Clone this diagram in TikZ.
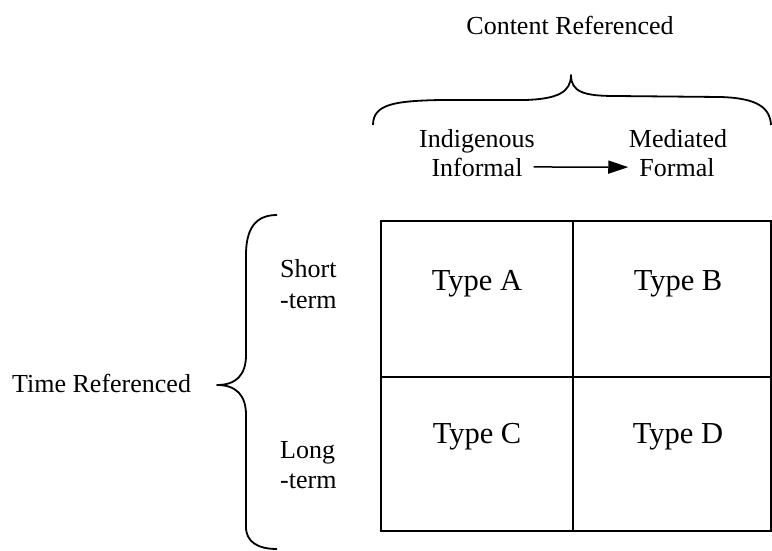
\documentclass[tikz,border=0pt]{standalone}
\usepackage{fontspec}
\setmainfont{Liberation Serif}
\usetikzlibrary{arrows.meta}
\tikzset{
  lbl/.style={inner sep=0pt, font=\fontsize{26}{30}\selectfont},
  typelbl/.style={inner sep=0pt, anchor=base, font=\fontsize{30.5}{35}\selectfont},
  gridline/.style={line width=2.5pt},
  bracel/.style={line width=1.8pt, line join=round},
  arr/.style={line width=1.5pt, -{Triangle[length=20pt,width=13pt]}}
}
\begin{document}
\begin{tikzpicture}[x=1pt,y=-1pt]
\useasboundingbox (0,0) rectangle (772,551);
% top labels
\node[lbl, anchor=base] (content) at (570,35) {Content Referenced};
\node[lbl, anchor=base] (ind) at (477,147) {Indigenous};
\node[lbl, anchor=base] (inf) at (477,176) {Informal};
\node[lbl, anchor=base] (med) at (678,147) {Mediated};
\node[lbl, anchor=base] (form) at (677,176) {Formal};
\draw[arr] ([xshift=11pt]inf.east) -- ([xshift=-11pt]form.west);
% top brace
\draw[bracel] (373,125) .. controls (373,104) and (395,101) .. (440,100)
  -- (525,100) .. controls (558,99) and (571,92) .. (571,75)
  .. controls (571,92) and (584,96) .. (615,96)
  -- (720,97) .. controls (758,98) and (770,108) .. (771,125);
% left side
\node[lbl, anchor=base west] (time) at (12,392) {Time Referenced};
\draw[bracel] (277,215) .. controls (256,215) and (246,228) .. (246,255)
  -- (246,355) .. controls (246,375) and (236,385) .. (217,385)
  .. controls (236,385) and (246,395) .. (246,415)
  -- (246,527) .. controls (246,542) and (258,549) .. (277,549);
\node[lbl, anchor=base west] (short) at (280,277) {Short};
\node[lbl, anchor=base west] (sterm) at (280,308) {-term};
\node[lbl, anchor=base west] (long) at (280,458) {Long};
\node[lbl, anchor=base west] (lterm) at (280,488) {-term};
% grid
\draw[gridline] (381,221) rectangle (771,531);
\draw[gridline] (573,221) -- (573,531);
\draw[gridline] (381,377) -- (771,377);
\node[typelbl] (ta) at (477,290) {Type A};
\node[typelbl] (tb) at (678,290) {Type B};
\node[typelbl] (tc) at (477,443) {Type C};
\node[typelbl] (td) at (678,443) {Type D};
\end{tikzpicture}
\end{document}
